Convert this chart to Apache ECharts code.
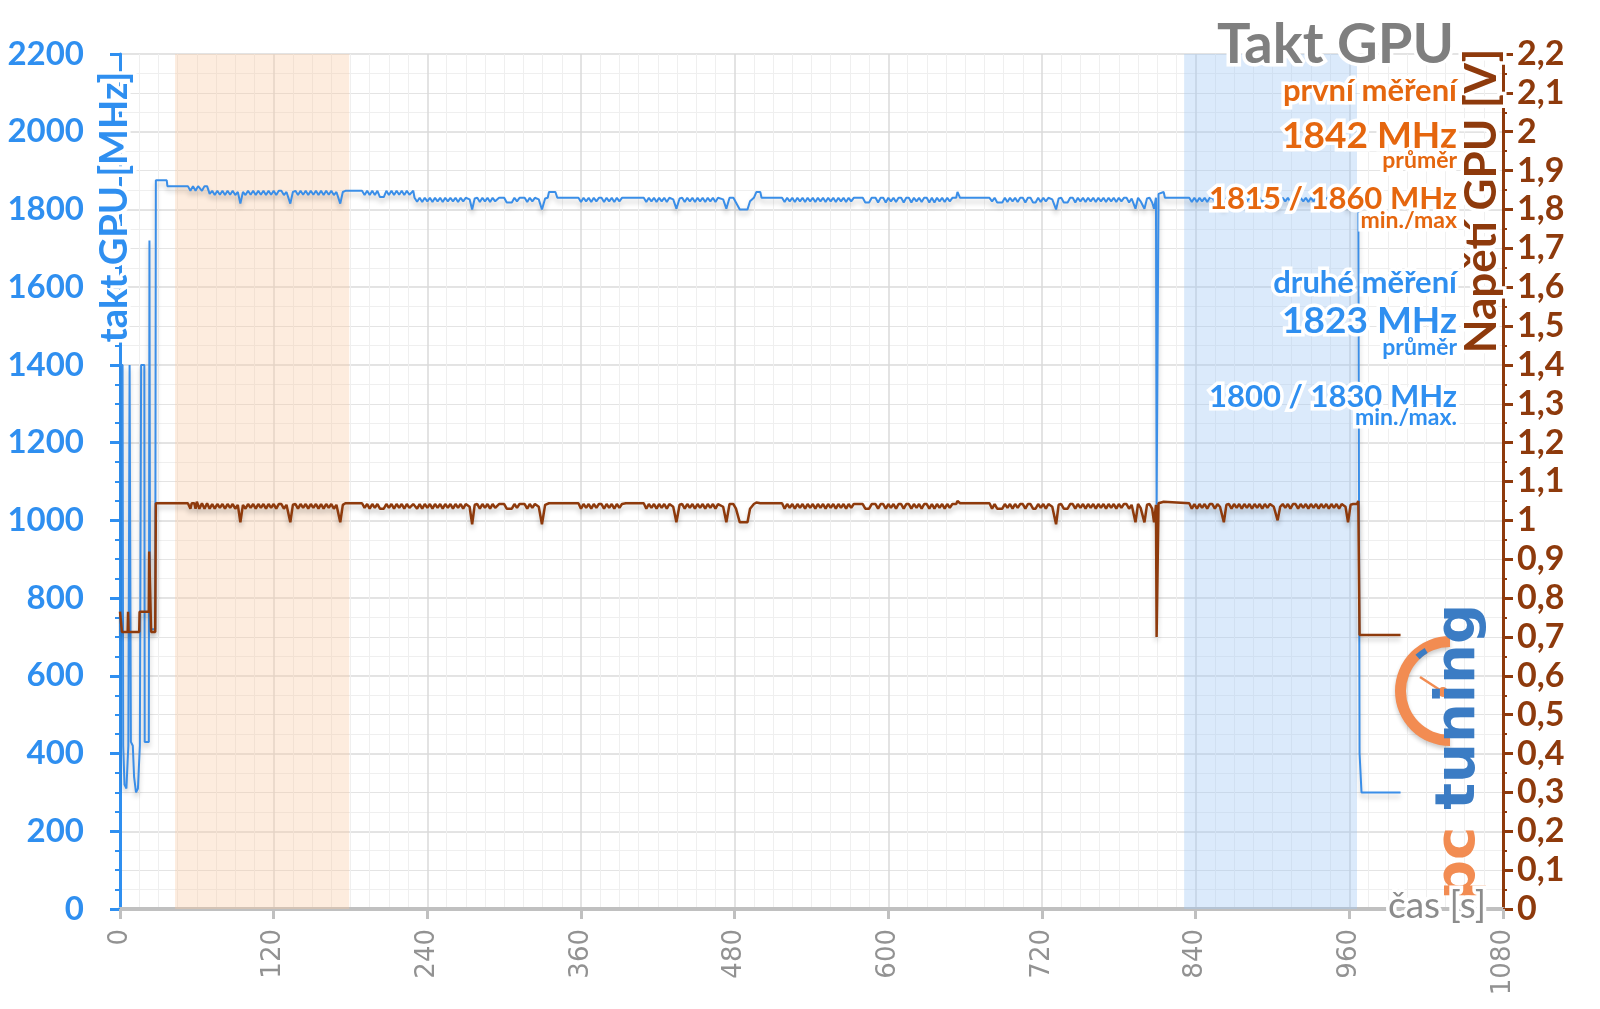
<!DOCTYPE html>
<html><head><meta charset="utf-8">
<script src="https://cdn.jsdelivr.net/npm/echarts@6/dist/echarts.min.js"></script>
<style>html,body{margin:0;padding:0;background:#fff}#c{width:1600px;height:1009px}</style>
</head><body><div id="c"></div>
<script>
// time axis [s]
const casMin = 0, casMax = 1080, casStep = 120;
// GPU clock [s, MHz]
const taktGPU = [
[0,1400],[2,1400],[2.5,420],[3.5,320],[5,310],[6.5,420],[7,420],[7.5,1400],[8,1400],[8.5,430],[10,420],[11,340],[12.5,300],[14,310],[15.5,420],[16.5,1400],[19,1400],[19.3,430],[22.5,430],[23,1720],[23.5,720],[27.5,720],[28,1875],[36.5,1875],[37,1860],[53,1860],
[55,1848],[57,1860],[59,1848],[61,1860],[62,1860],[64,1848],[66,1860],[68,1860],[70,1840],
[72,1848],[74,1837],[76,1848],[78,1838],[80,1848],[82,1837],[84,1848],[86,1838],[88,1848],[90,1837],[92,1845],[94,1815],[96,1845],[98,1837],[100,1848],[102,1838],[104,1848],[106,1837],[108,1848],[110,1838],[112,1848],[114,1837],[116,1848],[118,1838],[120,1848],[122,1837],[124,1848],[126,1848],[128,1837],[130,1845],[133,1815],[135,1845],[137,1848],[139,1837],[141,1848],[143,1838],[145,1848],[147,1837],[149,1848],[151,1838],[153,1848],[155,1837],[157,1848],[159,1837],[161,1848],[163,1838],[165,1848],[167,1837],[169,1845],[172,1815],[174,1845],[176,1848],[189,1848],
[191,1837],[193,1848],[195,1837],[197,1848],[199,1837],[201,1848],[203,1832],[206,1832],[208,1848],[210,1837],[212,1848],[214,1837],[216,1848],[218,1838],[220,1848],[222,1837],[224,1848],[226,1838],[229,1848],
[230,1830],[232,1820],[234,1830],[236,1819],[238,1830],[240,1821],[242,1830],[244,1819],[246,1830],[248,1821],[250,1830],[252,1819],[254,1830],[256,1821],[258,1830],[260,1821],[262,1830],[264,1819],[266,1830],[268,1821],[270,1830],[273,1826],[275,1800],[277,1828],[279,1830],[281,1819],[283,1830],[285,1821],[287,1830],[289,1819],[291,1830],[293,1821],[296,1830],[300,1830],[302,1818],[306,1818],[308,1830],[310,1821],[312,1830],[316,1830],[318,1819],[320,1830],[322,1821],[324,1830],[327,1826],[329.5,1800],[332,1828],[334,1830],[335,1845],[340,1845],[341.5,1830],[358,1830],
[360,1819],[362,1830],[364,1821],[366,1830],[368,1819],[370,1830],[372,1821],[374,1830],[376,1830],[378,1819],[380,1830],[382,1821],[384,1830],[386,1819],[388,1830],[390,1821],[392,1830],[409,1830],
[411,1819],[413,1830],[415,1821],[417,1830],[419,1819],[421,1830],[423,1821],[425,1830],[427,1819],[429,1830],[432,1826],[434.5,1802],[437,1828],[439,1830],[441,1819],[443,1830],[445,1821],[447,1830],[449,1819],[451,1830],[453,1821],[455,1830],[457,1819],[459,1830],[461,1821],[463,1830],[465,1819],[467,1830],
[471,1826],[473.5,1802],[476,1830],[479,1830],[481,1818],[484,1800],[490,1800],[492,1821],[495,1830],[497,1845],[500,1845],[501,1830],[517,1830],
[519,1819],[521,1830],[523,1821],[525,1830],[527,1819],[529,1830],[531,1821],[533,1830],[535,1819],[537,1830],[539,1821],[541,1830],[543,1819],[545,1830],[547,1821],[549,1830],[551,1819],[553,1830],[555,1821],[557,1830],[559,1819],[561,1830],[563,1821],[565,1830],[567,1819],[569,1830],[571,1821],[573,1830],[580,1830],[582,1818],[585,1818],[587,1830],[590,1830],[592,1818],[594,1830],[596,1830],[598,1818],[600,1830],[602,1821],[604,1830],[606,1819],[608,1830],[610,1830],[612,1818],[614,1830],[616,1830],[618,1818],[620,1830],[622,1821],[624,1830],[626,1819],[628,1830],[630,1830],[632,1818],[634,1830],[636,1818],[638,1830],[640,1821],[642,1830],[644,1819],[646,1830],[648,1821],[650,1830],[653,1830],[654,1845],[655.5,1845],[656,1830],[679,1830],
[681,1821],[683,1830],[685,1818],[689,1818],[691,1830],[693,1819],[695,1830],[697,1821],[699,1830],[701,1819],[703,1830],[705,1830],[707,1818],[709,1830],[711,1830],[713,1818],[715,1818],[717,1830],[719,1819],[721,1830],[723,1821],[725,1830],[728,1826],[731,1800],[733,1828],[735,1830],[737,1818],[740,1818],[742,1830],[744,1830],[746,1818],[748,1830],[750,1821],[752,1830],[754,1819],[756,1830],[758,1821],[760,1830],[762,1819],[764,1830],[766,1821],[768,1830],[770,1819],[772,1830],[774,1821],[776,1830],[778,1819],[780,1830],[782,1821],[784,1830],[786,1830],[788,1818],[790,1828],[793,1802],[795,1830],[797,1821],[800,1802],[802,1828],[804,1830],[806,1818],[807.5,1802],[809,1830],[809.5,1040],[810.5,1040],[811,1840],[812,1845],[815,1845],[816,1830],[835,1830],
[837,1819],[839,1830],[841,1819],[843,1830],[845,1821],[847,1830],[849,1819],[851,1830],[853,1830],[855,1819],[857,1830],[859,1826],[862,1802],[864,1828],[866,1830],[868,1819],[870,1830],[872,1821],[874,1830],[876,1819],[878,1830],[880,1821],[882,1830],[884,1819],[886,1830],[888,1821],[890,1830],[892,1819],[894,1830],[896,1821],[898,1830],[901,1826],[904,1802],[906,1826],[908,1830],[910,1821],[912,1830],[914,1819],[916,1830],[918,1830],[920,1819],[922,1830],[924,1821],[926,1830],[928,1819],[930,1830],[932,1821],[934,1830],[936,1819],[938,1830],[940,1821],[942,1830],[944,1819],[946,1830],[948,1821],[950,1830],[952,1819],[954,1830],[957,1826],[959,1800],[961,1828],[963,1830],[966,1830],[967,1840],[967.6,1840],[968,400],[969.5,300],[1000,300]
];
// GPU voltage [s, V]
const napetiGPU = [
[0,0.765],[1.2,0.765],[1.5,0.713],[6,0.713],[6.3,0.765],[6.7,0.713],[15,0.713],[15.3,0.765],[22.5,0.765],[22.8,0.92],[24,0.92],[24.3,0.713],[27.5,0.713],[28,1.044],[53,1.044],
[55,1.03],[56,1.044],[58,1.044],[59,1.03],[60,1.048],[62,1.03],[64,1.044],[66,1.03],[68,1.044],[70,1.03],
[72,1.042],[74,1.03],[76,1.042],[78,1.032],[80,1.042],[82,1.03],[84,1.042],[86,1.032],[88,1.042],[90,1.03],[92,1.04],[94,0.995],[96,1.04],[98,1.03],[100,1.042],[102,1.032],[104,1.042],[106,1.03],[108,1.042],[110,1.032],[112,1.042],[114,1.03],[116,1.042],[118,1.032],[120,1.042],[122,1.03],[124,1.042],[126,1.042],[128,1.03],[130,1.04],[133,0.995],[135,1.04],[137,1.042],[139,1.03],[141,1.042],[143,1.032],[145,1.042],[147,1.03],[149,1.042],[151,1.032],[153,1.042],[155,1.03],[157,1.042],[159,1.03],[161,1.042],[163,1.032],[165,1.042],[167,1.03],[169,1.04],[172,0.995],[174,1.04],[176,1.044],[189,1.044],
[191,1.032],[193,1.042],[195,1.03],[197,1.042],[199,1.032],[201,1.042],[203,1.03],[206,1.03],[208,1.042],[210,1.032],[212,1.042],[214,1.03],[216,1.042],[218,1.032],[220,1.042],[222,1.03],[224,1.042],[226,1.032],[229,1.042],
[232,1.03],[234,1.042],[236,1.03],[238,1.042],[240,1.032],[242,1.042],[244,1.03],[246,1.042],[248,1.032],[250,1.042],[252,1.03],[254,1.042],[256,1.032],[258,1.042],[260,1.03],[262,1.042],[264,1.032],[266,1.042],[268,1.03],[270,1.042],[273,1.035],[275,0.99],[277,1.04],[279,1.042],[281,1.03],[283,1.042],[285,1.032],[287,1.042],[289,1.03],[291,1.042],[293,1.032],[296,1.042],[300,1.042],[302,1.03],[306,1.03],[308,1.042],[310,1.032],[312,1.042],[316,1.042],[318,1.03],[320,1.042],[322,1.032],[324,1.042],[327,1.035],[329.5,0.99],[332,1.04],[335,1.044],[358,1.044],
[360,1.03],[362,1.042],[364,1.032],[366,1.042],[368,1.03],[370,1.042],[372,1.032],[374,1.042],[376,1.042],[378,1.03],[380,1.042],[382,1.032],[384,1.042],[386,1.03],[388,1.042],[390,1.032],[392,1.042],[395,1.044],[409,1.044],
[411,1.03],[413,1.042],[415,1.032],[417,1.042],[419,1.03],[421,1.042],[423,1.032],[425,1.042],[427,1.03],[429,1.042],[432,1.035],[434.5,0.995],[437,1.04],[439,1.042],[441,1.03],[443,1.042],[445,1.032],[447,1.042],[449,1.03],[451,1.042],[453,1.032],[455,1.042],[457,1.03],[459,1.042],[461,1.032],[463,1.042],[465,1.03],[467,1.042],
[471,1.035],[473.5,0.995],[476,1.042],[479,1.042],[481,1.03],[484,0.995],[490,0.995],[492,1.03],[495,1.042],[497,1.046],[500,1.044],[517,1.044],
[519,1.03],[521,1.042],[523,1.032],[525,1.042],[527,1.03],[529,1.042],[531,1.032],[533,1.042],[535,1.03],[537,1.042],[539,1.032],[541,1.042],[543,1.03],[545,1.042],[547,1.032],[549,1.042],[551,1.03],[553,1.042],[555,1.032],[557,1.042],[559,1.03],[561,1.042],[563,1.032],[565,1.042],[567,1.03],[569,1.042],[571,1.032],[573,1.042],[580,1.042],[582,1.03],[585,1.03],[587,1.042],[590,1.042],[592,1.03],[594,1.042],[596,1.042],[598,1.03],[600,1.042],[602,1.032],[604,1.042],[606,1.03],[608,1.042],[610,1.042],[612,1.03],[614,1.042],[616,1.042],[618,1.03],[620,1.042],[622,1.032],[624,1.042],[626,1.03],[628,1.042],[630,1.042],[632,1.03],[634,1.042],[636,1.03],[638,1.042],[640,1.032],[642,1.042],[644,1.03],[646,1.042],[648,1.032],[650,1.042],[653,1.042],[654,1.05],[655.5,1.05],[656,1.044],[679,1.044],
[681,1.03],[683,1.042],[685,1.03],[689,1.03],[691,1.042],[693,1.032],[695,1.042],[697,1.03],[699,1.042],[701,1.032],[703,1.042],[705,1.042],[707,1.03],[709,1.042],[711,1.042],[713,1.03],[715,1.03],[717,1.042],[719,1.032],[721,1.042],[723,1.03],[725,1.042],[728,1.035],[731,0.99],[733,1.04],[735,1.042],[737,1.03],[740,1.03],[742,1.042],[744,1.042],[746,1.03],[748,1.042],[750,1.032],[752,1.042],[754,1.03],[756,1.042],[758,1.032],[760,1.042],[762,1.03],[764,1.042],[766,1.032],[768,1.042],[770,1.03],[772,1.042],[774,1.032],[776,1.042],[778,1.03],[780,1.042],[782,1.032],[784,1.042],[786,1.042],[788,1.03],[790,1.04],[793,0.995],[795,1.042],[797,1.032],[800,0.995],[802,1.04],[804,1.042],[806,1.03],[807.5,0.995],[809,1.04],[809.5,0.70],[810.5,0.70],[811,1.044],[812,1.048],[815,1.048],[816,1.044],[835,1.044],
[837,1.03],[839,1.042],[841,1.03],[843,1.042],[845,1.032],[847,1.042],[849,1.03],[851,1.042],[853,1.042],[855,1.03],[857,1.042],[859,1.035],[862,0.995],[864,1.04],[866,1.042],[868,1.03],[870,1.042],[872,1.032],[874,1.042],[876,1.03],[878,1.042],[880,1.032],[882,1.042],[884,1.03],[886,1.042],[888,1.032],[890,1.042],[892,1.03],[894,1.042],[896,1.032],[898,1.042],[901,1.035],[904,1.0],[906,1.035],[908,1.042],[910,1.032],[912,1.042],[914,1.03],[916,1.042],[918,1.042],[920,1.03],[922,1.042],[924,1.032],[926,1.042],[928,1.03],[930,1.042],[932,1.032],[934,1.042],[936,1.03],[938,1.042],[940,1.032],[942,1.042],[944,1.03],[946,1.042],[948,1.032],[950,1.042],[952,1.03],[954,1.042],[957,1.035],[959,0.995],[961,1.04],[963,1.042],[966,1.042],[967,1.05],[967.8,1.05],[968,0.705],[1000,0.705]
];
// measurement windows [s]
const prvniMereni = [43, 179];
const druheMereni = [831, 966];
// texts
const titulek = 'Takt GPU';
const prvniTexty = ['první měření', '1842 MHz', 'průměr', '1815 / 1860 MHz', 'min./max'];
const druheTexty = ['druhé měření', '1823 MHz', 'průměr', '1800 / 1830 MHz', 'min./max.'];
const osaTakt = 'takt GPU [MHz]', osaNapeti = 'Napětí GPU [V]', osaCas = 'čas [s]';

const BLUE = '#3a8ee8', BLUE_T = '#2f8ff0', BROWN = '#8e3a0c', ORANGE = '#e5660e', GREY = '#7f7f7f';

function txt(text, x, y, font, fill, align, extra) {
  return Object.assign({type: 'text', x: x, y: y, z: 100,
    style: {text: text, font: font, fill: fill, textAlign: align || 'right', textVerticalAlign: 'middle',
      stroke: '#fff', lineWidth: 7}}, extra || {});
}

const chart = echarts.init(document.getElementById('c'));
chart.setOption({
  backgroundColor: '#fff',
  animation: false,
  grid: {left: 120, right: 97, top: 54, bottom: 100},
  xAxis: {
    type: 'value', min: casMin, max: casMax, interval: casStep,
    axisLine: {lineStyle: {color: '#c0c0c0', width: 4}},
    axisTick: {length: 10, lineStyle: {color: '#c0c0c0', width: 3}},
    axisLabel: {rotate: 90, margin: 20, color: '#929292', fontSize: 26, fontFamily: 'DejaVu Sans',
      formatter: v => String(v)},
    splitLine: {show: true, lineStyle: {color: '#dadada', width: 1.5}},
    minorTick: {show: false, splitNumber: 8},
    minorSplitLine: {show: true, lineStyle: {color: '#efefef', width: 1}}
  },
  yAxis: [{
    type: 'value', min: 0, max: 2200, interval: 200, position: 'left',
    axisLine: {show: true, lineStyle: {color: BLUE_T, width: 3}},
    axisTick: {show: true, length: 10, lineStyle: {color: BLUE_T, width: 3}},
    minorTick: {show: true, splitNumber: 4, length: 5, lineStyle: {color: BLUE_T, width: 2}},
    axisLabel: {color: BLUE_T, fontSize: 33, fontWeight: 'bold', fontFamily: 'Lato', margin: 36,
      formatter: v => String(v)},
    splitLine: {show: true, lineStyle: {color: '#dadada', width: 1.5}},
    minorSplitLine: {show: true, lineStyle: {color: '#efefef', width: 1}}
  }, {
    type: 'value', min: 0, max: 2.2, interval: 0.1, position: 'right',
    axisLine: {show: true, lineStyle: {color: BROWN, width: 3}},
    axisTick: {show: true, length: 10, lineStyle: {color: BROWN, width: 3}},
    minorTick: {show: true, splitNumber: 2, length: 4, lineStyle: {color: BROWN, width: 2}},
    axisLabel: {color: BROWN, fontSize: 34, fontWeight: 'bold', fontFamily: 'Lato', margin: 14,
      formatter: v => String(+v.toFixed(1)).replace('.', ',')},
    splitLine: {show: true, lineStyle: {color: '#e4e4e4', width: 1}}
  }],
  series: [{
    name: 'takt GPU', type: 'line', yAxisIndex: 0, data: taktGPU,
    symbol: 'none', z: 3,
    lineStyle: {color: BLUE, width: 2, shadowColor: 'rgba(0,0,0,0.22)', shadowBlur: 5, shadowOffsetY: 4},
    itemStyle: {color: BLUE},
    markArea: {silent: true, data: [
      [{xAxis: prvniMereni[0], itemStyle: {color: 'rgba(248,200,160,0.35)'}}, {xAxis: prvniMereni[1]}],
      [{xAxis: druheMereni[0], itemStyle: {color: 'rgba(160,200,245,0.38)'}}, {xAxis: druheMereni[1]}]
    ]}
  }, {
    name: 'napětí GPU', type: 'line', yAxisIndex: 1, data: napetiGPU,
    symbol: 'none', z: 4,
    lineStyle: {color: BROWN, width: 2.5, shadowColor: 'rgba(0,0,0,0.22)', shadowBlur: 5, shadowOffsetY: 4},
    itemStyle: {color: BROWN}
  }],
  graphic: [
    // logo
    {type: 'sector', z: 5, shape: {cx: 1450, cy: 691, r0: 44, r: 55, startAngle: Math.PI / 2, endAngle: Math.PI * 1.5, clockwise: true},
      style: {fill: '#f28c52', shadowColor: 'rgba(0,0,0,0.2)', shadowBlur: 4, shadowOffsetY: 3}},
    {type: 'sector', z: 6, shape: {cx: 1450, cy: 691, r0: 44, r: 50, startAngle: 3.95, endAngle: 4.18, clockwise: true},
      style: {fill: '#3b7cc4'}},
    {type: 'line', z: 6, shape: {x1: 1443, y1: 692, x2: 1420, y2: 677}, style: {stroke: '#f28c52', lineWidth: 2.5}},
    {type: 'circle', z: 6, shape: {cx: 1443, cy: 692, r: 5}, style: {fill: '#f28c52'}},
    {type: 'text', z: 6, x: 1459, y: 900, rotation: Math.PI / 2,
      style: {text: 'pc', font: 'bold 56px "DejaVu Sans"', fill: '#f28c52', textAlign: 'left', textVerticalAlign: 'middle',
        shadowColor: 'rgba(0,0,0,0.2)', shadowBlur: 4, shadowOffsetY: 3}},
    {type: 'text', z: 6, x: 1459, y: 604, rotation: Math.PI / 2,
      style: {text: 'tuning', font: 'bold 56px "DejaVu Sans"', fill: '#3b7cc4', textAlign: 'right', textVerticalAlign: 'middle',
        shadowColor: 'rgba(0,0,0,0.2)', shadowBlur: 4, shadowOffsetY: 3}},
    // title + annotations
    txt(titulek, 1454, 45, 'bold 56px Lato', GREY),
    txt(prvniTexty[0], 1457, 91, 'bold 31px Lato', ORANGE),
    txt(prvniTexty[1], 1457, 136, 'bold 37px Lato', ORANGE),
    txt(prvniTexty[2], 1457, 161, 'bold 23px Lato', ORANGE),
    txt(prvniTexty[3], 1457, 199, 'bold 31px Lato', ORANGE),
    txt(prvniTexty[4], 1457, 221, 'bold 23px Lato', ORANGE),
    txt(druheTexty[0], 1457, 283, 'bold 31px Lato', BLUE_T),
    txt(druheTexty[1], 1457, 321, 'bold 37px Lato', BLUE_T),
    txt(druheTexty[2], 1457, 348, 'bold 23px Lato', BLUE_T),
    txt(druheTexty[3], 1457, 397, 'bold 31px Lato', BLUE_T),
    txt(druheTexty[4], 1457, 418, 'bold 23px Lato', BLUE_T),
    // axis names
    txt(osaTakt, 115, 207, 'bold 38px Lato', BLUE_T, 'center', {rotation: Math.PI / 2}),
    txt(osaNapeti, 1482, 201, 'bold 44px Lato', BROWN, 'center', {rotation: Math.PI / 2}),
    txt(osaCas, 1486, 906, '37px Lato', '#8c8c8c')
  ]
});
</script>
</body></html>
